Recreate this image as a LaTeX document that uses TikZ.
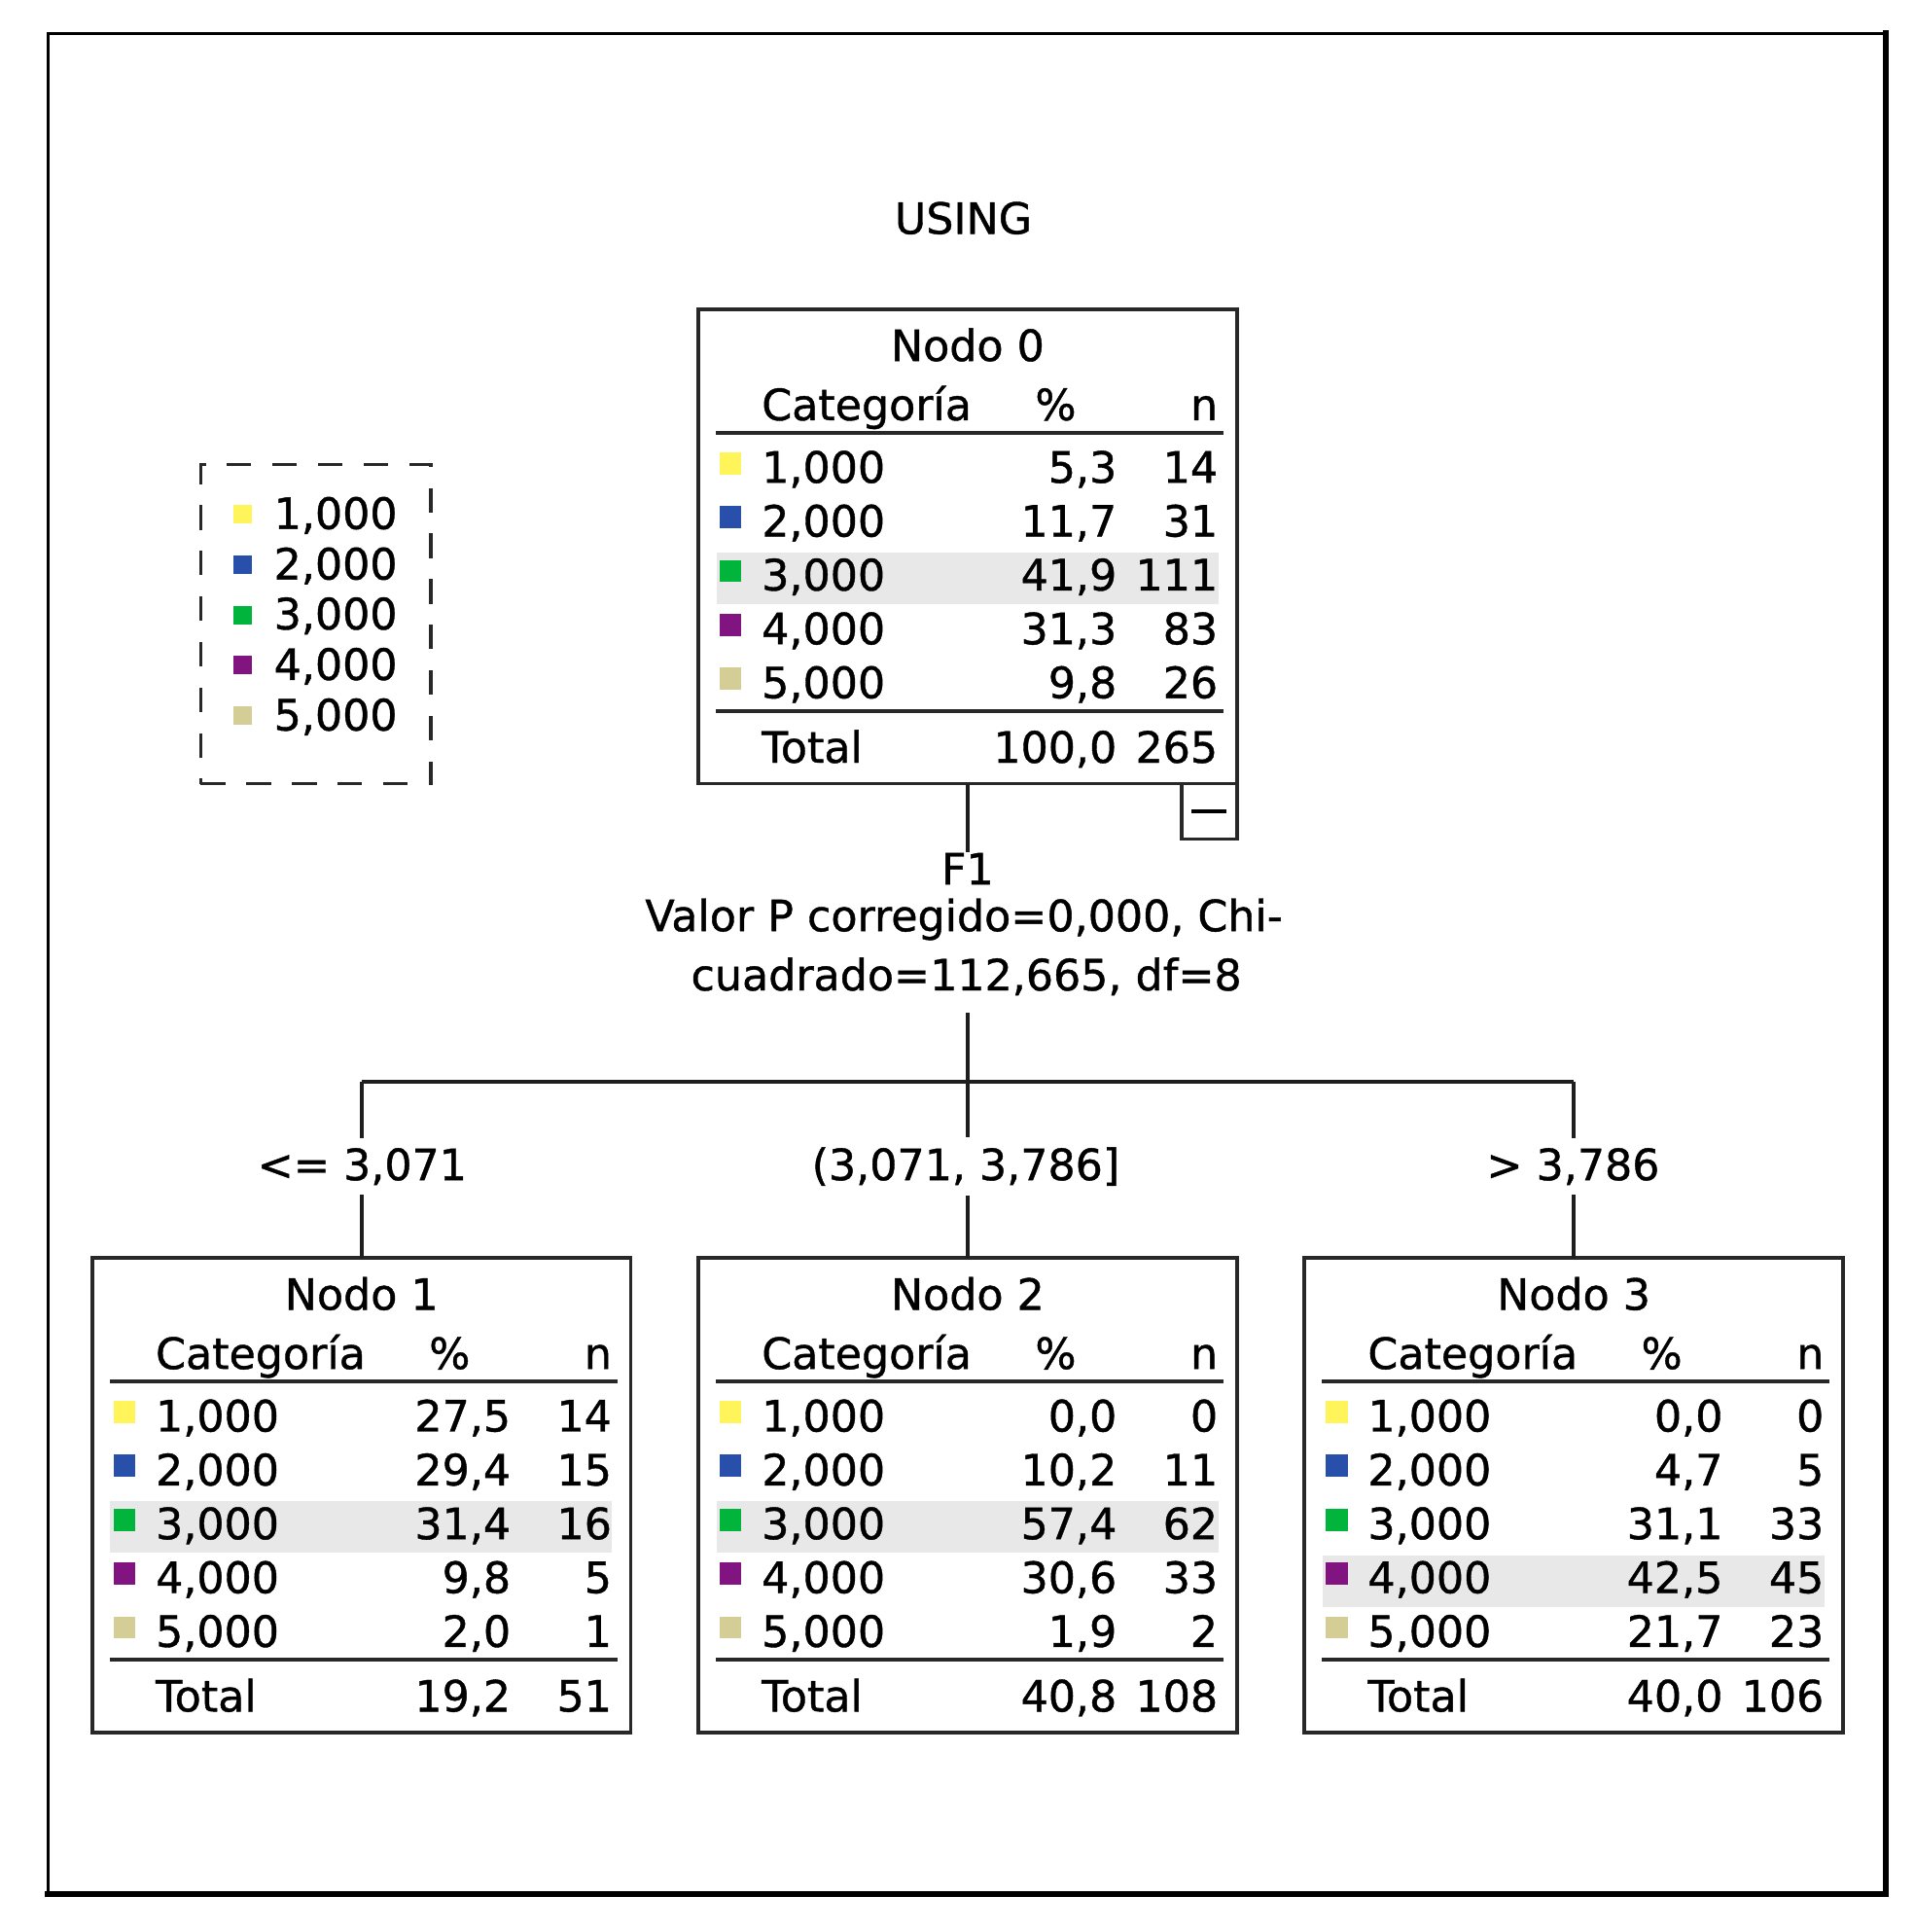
\documentclass[tikz,border=0pt]{standalone}
\usepackage{fontspec}
\setmainfont{DejaVu Sans}
\newfontfamily\semibfont[FakeBold=0.9]{DejaVu Sans}
\usetikzlibrary{calc}
\definecolor{cyel}{RGB}{255,244,90}
\definecolor{cblu}{RGB}{40,80,170}
\definecolor{cgrn}{RGB}{0,180,60}
\definecolor{cpur}{RGB}{130,20,130}
\definecolor{ctan}{RGB}{212,206,150}
\definecolor{bandgray}{RGB}{232,232,232}
\definecolor{boxline}{RGB}{40,40,40}
\definecolor{connline}{RGB}{30,30,30}
\newcommand\tfont{\semibfont\fontsize{17.5pt}{24pt}\selectfont}
\tikzset{
  txt/.style={inner sep=0pt, font=\tfont, text=black},
  treebox/.style={draw=boxline, line width=1.5pt, rectangle, minimum width=218.5pt,
    minimum height=192.5pt, inner sep=0pt, outer sep=0pt, anchor=north west},
  sq/.style={rectangle, inner sep=0pt, minimum size=9pt},
  lsq/.style={rectangle, inner sep=0pt, minimum size=7.5pt},
  tabrule/.style={draw=boxline, line width=1.6pt},
  conn/.style={draw=connline, line width=1.4pt},
  splitlbl/.style={txt, fill=white, inner xsep=1pt, inner ysep=4pt, anchor=base},
  legbox/.style={draw=boxline, line width=1.5pt, dash pattern=on 10pt off 8.5pt,
    rectangle, inner sep=0pt, minimum width=93.5pt, minimum height=129.5pt},
  minusbox/.style={draw=boxline, line width=1.5pt, rectangle, inner sep=0pt,
    outer sep=0pt, minimum size=22.5pt, anchor=north east}
}
% #1 prefix, #2 y, #3 colour, #4 category, #5 pct, #6 n
\newcommand\TRow[6]{%
  \node[sq, fill=#3] (#1s) at (26,#2-3) {};
  \node[txt, anchor=base west] (#1c) at (51,#2+12.75) {#4};
  \node[txt, anchor=base east] (#1p) at (340,#2+12.75) {#5};
  \node[txt, anchor=base east] (#1n) at (422,#2+12.75) {#6};
}
% #1 name, #2 title, #3 highlighted row y, #4 total pct, #5 total n
\newcommand\TFrame[5]{%
  \fill[bandgray] (14.5,#3-18) rectangle (422,#3+24);
  \node[treebox] (#1) at (0,0) {};
  \node[txt, anchor=base] (#1t) at (218.5,42) {#2};
  \node[txt, anchor=base west] (#1h1) at (51,90) {Categoría};
  \node[txt, anchor=base] (#1h2) at (290,90) {\%};
  \node[txt, anchor=base east] (#1h3) at (422,90) {n};
  \draw[tabrule] (14,100) -- (426,100);
  \draw[tabrule] (14,326) -- (426,326);
  \node[txt, anchor=base west] (#1tl) at (51,368) {Total};
  \node[txt, anchor=base east] (#1tp) at (340,368) {#4};
  \node[txt, anchor=base east] (#1tn) at (422,368) {#5};
}
\begin{document}
\begin{tikzpicture}[x=0.5pt,y=-0.5pt]
\useasboundingbox (0,0) rectangle (1554,1568);
\fill[white] (0,0) rectangle (1554,1568);
% outer frame
\draw[draw=black, line width=1.2pt] (39,27) rectangle (1531,1537);
\draw[draw=black, line width=2.4pt, line cap=rect] (1531,27) -- (1531,1537) -- (39,1537);

% title
\node[txt, anchor=base] (title) at (782,189.75) {USING};

% legend
\node[legbox] (leg) at (256.5,506.5) {};
\node[lsq, fill=cyel] (lg1s) at (197,417.5) {};
\node[txt, anchor=base west] (lg1) at (222,429.25) {1,000};
\node[lsq, fill=cblu] (lg2s) at (197,458.5) {};
\node[txt, anchor=base west] (lg2) at (222,470.25) {2,000};
\node[lsq, fill=cgrn] (lg3s) at (197,499) {};
\node[txt, anchor=base west] (lg3) at (222,510.75) {3,000};
\node[lsq, fill=cpur] (lg4s) at (197,540) {};
\node[txt, anchor=base west] (lg4) at (222,551.75) {4,000};
\node[lsq, fill=ctan] (lg5s) at (197,581) {};
\node[txt, anchor=base west] (lg5) at (222,592.75) {5,000};

% Nodo 0
\begin{scope}[shift={(567,251)}]
\TFrame{n0}{Nodo 0}{215.4}{100,0}{265}
\TRow{n0a}{128}{cyel}{1,000}{5,3}{14}
\TRow{n0b}{171.7}{cblu}{2,000}{11,7}{31}
\TRow{n0c}{215.4}{cgrn}{3,000}{41,9}{111}
\TRow{n0d}{259.1}{cpur}{4,000}{31,3}{83}
\TRow{n0e}{302.8}{ctan}{5,000}{9,8}{26}
\end{scope}
\node[minusbox] (mbox) at (n0.south east) {\rule{14pt}{1.6pt}};

% Nodo 1
\begin{scope}[shift={(75,1021)}]
\TFrame{n1}{Nodo 1}{215.4}{19,2}{51}
\TRow{n1a}{128}{cyel}{1,000}{27,5}{14}
\TRow{n1b}{171.7}{cblu}{2,000}{29,4}{15}
\TRow{n1c}{215.4}{cgrn}{3,000}{31,4}{16}
\TRow{n1d}{259.1}{cpur}{4,000}{9,8}{5}
\TRow{n1e}{302.8}{ctan}{5,000}{2,0}{1}
\end{scope}

% Nodo 2
\begin{scope}[shift={(567,1021)}]
\TFrame{n2}{Nodo 2}{215.4}{40,8}{108}
\TRow{n2a}{128}{cyel}{1,000}{0,0}{0}
\TRow{n2b}{171.7}{cblu}{2,000}{10,2}{11}
\TRow{n2c}{215.4}{cgrn}{3,000}{57,4}{62}
\TRow{n2d}{259.1}{cpur}{4,000}{30,6}{33}
\TRow{n2e}{302.8}{ctan}{5,000}{1,9}{2}
\end{scope}

% Nodo 3
\begin{scope}[shift={(1059,1021)}]
\TFrame{n3}{Nodo 3}{259.1}{40,0}{106}
\TRow{n3a}{128}{cyel}{1,000}{0,0}{0}
\TRow{n3b}{171.7}{cblu}{2,000}{4,7}{5}
\TRow{n3c}{215.4}{cgrn}{3,000}{31,1}{33}
\TRow{n3d}{259.1}{cpur}{4,000}{42,5}{45}
\TRow{n3e}{302.8}{ctan}{5,000}{21,7}{23}
\end{scope}

% split info
\node[txt] (f1) at (785.5,705) {F1};
\node[txt, anchor=base] (stat1) at (782.5,755.75) {Valor P corregido=0,000, Chi-};
\node[txt, anchor=base] (stat2) at (784.5,803.75) {cuadrado=112,665, df=8};

% junction points
\coordinate (j0) at (785.5,878);
\coordinate (j1) at (293.5,878);
\coordinate (j3) at (1277.5,878);

% connectors
\draw[conn] (n0.south) -- (f1.north -| n0.south);
\draw[conn] ($(stat2.south -| j0)+(0,14)$) -- (j0);
\draw[conn] (j1) -- (j3);
\draw[conn] (j1) -- (n1.north);
\draw[conn] (j0) -- (n2.north);
\draw[conn] (j3) -- (n3.north);

% split labels
\node[splitlbl] (l1) at (294,957.75) {<= 3,071};
\node[splitlbl] (l2) at (784,957.75) {(3,071, 3,786]};
\node[splitlbl] (l3) at (1277,957.75) {> 3,786};
\end{tikzpicture}
\end{document}
